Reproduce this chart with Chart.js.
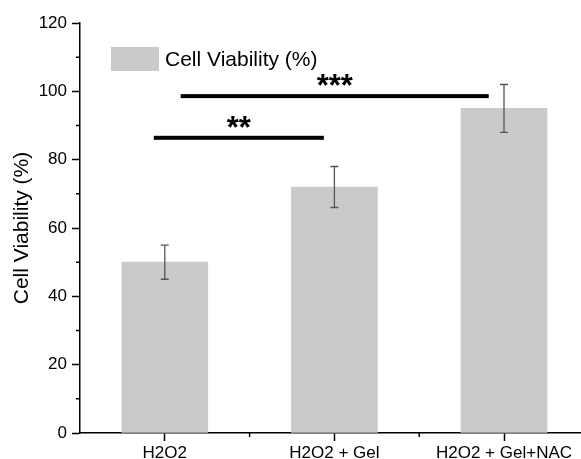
<!DOCTYPE html>
<html>
<head>
<meta charset="utf-8">
<script src="https://cdn.jsdelivr.net/npm/chart.js@4.4.0/dist/chart.umd.min.js"></script>
<style>
  html, body { margin: 0; padding: 0; background: #ffffff; }
  #wrap { width: 581px; height: 459px; }
</style>
</head>
<body>
<div id="wrap"><canvas id="viabilityChart"></canvas></div>
<script>
// chart data
const categories = ['H2O2', 'H2O2 + Gel', 'H2O2 + Gel+NAC'];
const viability = [50, 72, 95];
const viabilityErr = [5, 6, 7];
const yTicks = [0, 20, 40, 60, 80, 100, 120];
const yMinorTicks = [10, 30, 50, 70, 90, 110];
const xMinorTicks = [0.5, 1.5];
// significance bars: start / end on the category axis, height in %
const sigFrom = [-0.065, 0.094];
const sigTo = [0.938, 1.91];
const sigLevel = [86.4, 98.6];
const sigLabels = ['**', '***'];

const BAR_GREY = '#c9cacc';
const FONT = 'Arial, "Liberation Sans", sans-serif';

// error bars, minor ticks, significance lines and the legend
const extrasPlugin = {
    id: 'extras',
    afterDatasetsDraw(chart) {
        const ctx = chart.ctx;
        const x = chart.scales.x;
        const y = chart.scales.y;
        const area = chart.chartArea;
        const meta = chart.getDatasetMeta(0);

        ctx.save();
        // error bars
        ctx.strokeStyle = '#555555';
        ctx.lineWidth = 1.3;
        meta.data.forEach((bar, i) => {
            const top = y.getPixelForValue(viability[i] + viabilityErr[i]);
            const bottom = y.getPixelForValue(viability[i] - viabilityErr[i]);
            ctx.beginPath();
            ctx.moveTo(bar.x, top);
            ctx.lineTo(bar.x, bottom);
            ctx.moveTo(bar.x - 4, top);
            ctx.lineTo(bar.x + 4, top);
            ctx.moveTo(bar.x - 4, bottom);
            ctx.lineTo(bar.x + 4, bottom);
            ctx.stroke();
        });

        // minor ticks
        ctx.strokeStyle = '#000000';
        ctx.lineWidth = 1.5;
        ctx.beginPath();
        yMinorTicks.forEach(v => {
            const py = y.getPixelForValue(v);
            ctx.moveTo(area.left, py);
            ctx.lineTo(area.left - 4, py);
        });
        xMinorTicks.forEach(v => {
            const px = x.getPixelForValue(v);
            ctx.moveTo(px, area.bottom);
            ctx.lineTo(px, area.bottom + 4);
        });
        ctx.stroke();

        // significance bars
        ctx.fillStyle = '#000000';
        ctx.font = 'bold 31px ' + FONT;
        ctx.textAlign = 'center';
        ctx.textBaseline = 'alphabetic';
        sigLabels.forEach((label, i) => {
            const x0 = x.getPixelForValue(sigFrom[i]);
            const x1 = x.getPixelForValue(sigTo[i]);
            const py = y.getPixelForValue(sigLevel[i]);
            ctx.fillRect(x0, py - 2, x1 - x0, 4);
            ctx.fillText(label, (x0 + x1) / 2, py);
        });

        // legend
        ctx.fillStyle = BAR_GREY;
        ctx.fillRect(area.left + 31, area.top + 24, 48, 24);
        ctx.fillStyle = '#000000';
        ctx.font = '21px ' + FONT;
        ctx.textAlign = 'left';
        ctx.textBaseline = 'middle';
        ctx.fillText(chart.data.datasets[0].label, area.left + 85, area.top + 37);
        ctx.restore();
    }
};

new Chart(document.getElementById('viabilityChart').getContext('2d'), {
    type: 'bar',
    data: {
        datasets: [{
            label: 'Cell Viability (%)',
            data: viability.map((v, i) => ({ x: i, y: v })),
            backgroundColor: BAR_GREY,
            borderWidth: 0,
            barThickness: 86
        }]
    },
    options: {
        responsive: true,
        maintainAspectRatio: false,
        animation: false,
        layout: { padding: { top: 23, right: 0, bottom: 0, left: 0 } },
        plugins: {
            legend: { display: false },
            tooltip: { enabled: false }
        },
        scales: {
            x: {
                type: 'linear',
                min: -0.5,
                max: 2.454,
                offset: false,
                afterBuildTicks: scale => { scale.ticks = categories.map((c, i) => ({ value: i })); },
                afterFit: scale => { scale.height = 26; },
                ticks: {
                    autoSkip: false,
                    maxRotation: 0,
                    padding: 2,
                    color: '#000000',
                    font: { family: FONT, size: 17 },
                    callback: v => categories[v]
                },
                grid: {
                    offset: false,
                    drawOnChartArea: false,
                    tickLength: 8,
                    tickColor: '#000000',
                    tickWidth: 1.5
                },
                border: { color: '#000000', width: 1.5 }
            },
            y: {
                min: 0,
                max: 120,
                afterBuildTicks: scale => { scale.ticks = yTicks.map(v => ({ value: v })); },
                afterFit: scale => { scale.width = 80; },
                title: {
                    display: true,
                    text: 'Cell Viability (%)',
                    color: '#000000',
                    font: { family: FONT, size: 21 },
                    padding: { top: 10, bottom: 0 }
                },
                ticks: {
                    padding: 5,
                    color: '#000000',
                    font: { family: FONT, size: 17 }
                },
                grid: {
                    drawOnChartArea: false,
                    tickLength: 8,
                    tickColor: '#000000',
                    tickWidth: 1.5
                },
                border: { color: '#000000', width: 1.5 }
            }
        }
    },
    plugins: [extrasPlugin]
});
</script>
</body>
</html>
